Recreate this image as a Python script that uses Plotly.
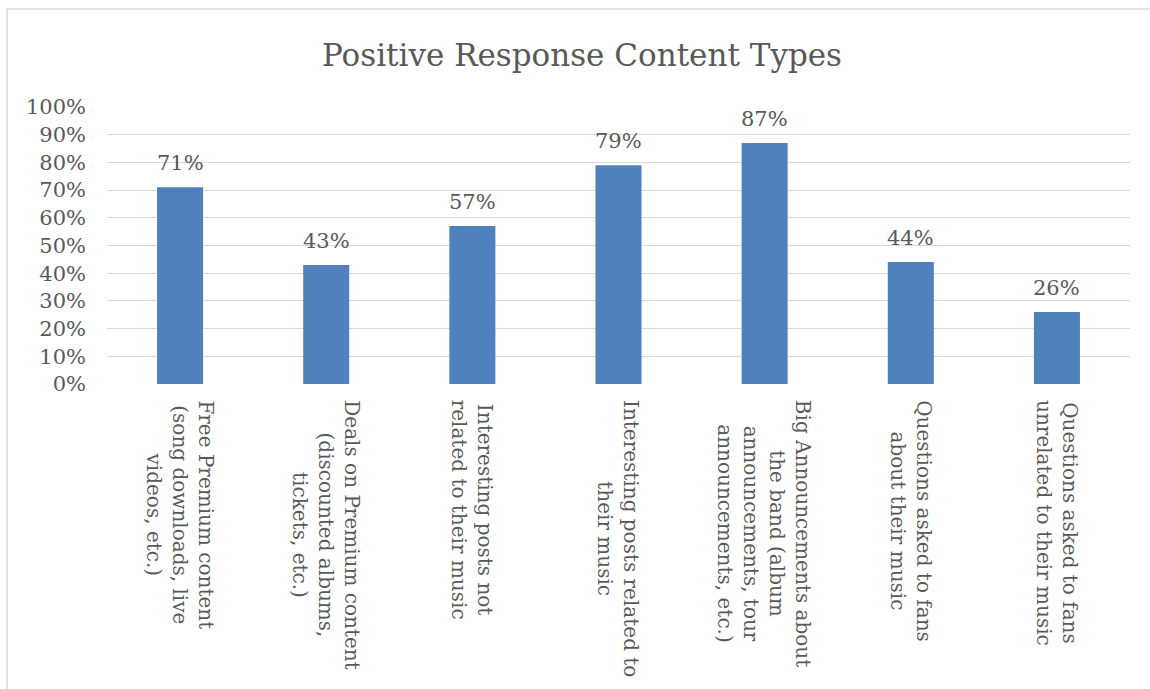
import plotly.graph_objects as go

categories = [
    "Free Premium content<br>(song downloads, live<br>videos, etc.)",
    "Deals on Premium content<br>(discounted albums,<br>tickets, etc.)",
    "Interesting posts not<br>related to their music",
    "Interesting posts related to<br>their music",
    "Big Announcements about<br>the band (album<br>announcements, tour<br>announcements, etc.)",
    "Questions asked to fans<br>about their music",
    "Questions asked to fans<br>unrelated to their music",
]
values = [0.71, 0.43, 0.57, 0.79, 0.87, 0.44, 0.26]
value_labels = ["71%", "43%", "57%", "79%", "87%", "44%", "26%"]
y_ticks = [0, 0.1, 0.2, 0.3, 0.4, 0.5, 0.6, 0.7, 0.8, 0.9, 1.0]
y_tick_labels = ["0%", "10%", "20%", "30%", "40%", "50%", "60%", "70%", "80%", "90%", "100%"]

FONT = "DejaVu Serif"
GREY = "#595959"
W, H = 1150, 689
L, R, T, B = 107, 20, 107, 305

xs = list(range(len(categories)))

fig = go.Figure()
fig.add_trace(go.Bar(x=xs, y=values, marker=dict(color="#4F81BD", line=dict(width=0)),
                     hoverinfo="skip"))

for i, (v, lab) in enumerate(zip(values, value_labels)):
    fig.add_annotation(x=i, y=v, xref="x", yref="y", text=lab, showarrow=False,
                       yanchor="middle", yshift=24, font=dict(family=FONT, size=21, color=GREY))

for i, c in enumerate(categories):
    fig.add_annotation(x=i, y=0, xref="x", yref="paper", text=c, showarrow=False,
                       textangle=90, align="center", yanchor="top", xanchor="center",
                       yshift=-14, font=dict(family=FONT, size=20, color=GREY))

pw = W - L - R
ph = H - T - B
fig.add_shape(type="rect", xref="paper", yref="paper",
              x0=(7 - L) / pw, x1=(W + 5 - L) / pw,
              y0=-(H + 5 - (H - B)) / ph, y1=((H - B) - 9) / ph,
              line=dict(color="#D9D9D9", width=1.5), fillcolor="rgba(0,0,0,0)", layer="below")

fig.update_layout(
    width=W, height=H,
    margin=dict(l=L, r=R, t=T, b=B, pad=0),
    paper_bgcolor="white", plot_bgcolor="white",
    showlegend=False,
    bargap=0.685,
    title=dict(text="Positive Response Content Types", x=582 / W, xanchor="center",
               y=1 - 55 / H, yanchor="middle",
               font=dict(family=FONT, size=31, color=GREY)),
    xaxis=dict(range=[-0.5, len(categories) - 0.5], showticklabels=False, showgrid=False,
               zeroline=False, showline=False, ticks=""),
    yaxis=dict(range=[0, 1], tickvals=y_ticks, ticktext=y_tick_labels,
               showgrid=True, gridcolor="#D9D9D9", gridwidth=1.3, zeroline=False,
               showline=False, ticks="", ticklabelstandoff=20,
               tickfont=dict(family=FONT, size=21, color=GREY)),
)

fig.write_html("out.html")
